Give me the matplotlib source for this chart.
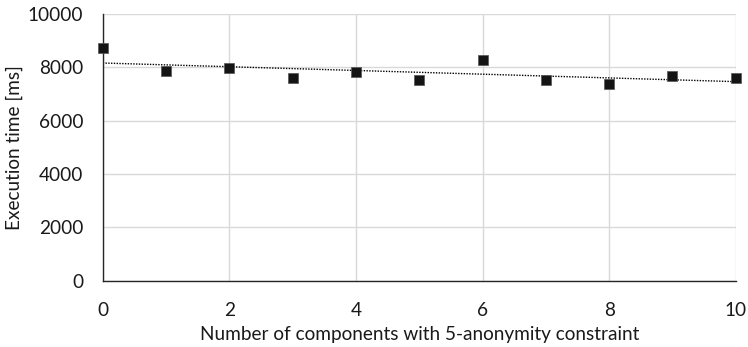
import numpy as np
import matplotlib
matplotlib.use("Agg")
import matplotlib.pyplot as plt

plt.rcParams['font.family'] = ['Lato', 'DejaVu Sans']

# Number of components carrying the 5-anonymity constraint
components = [0, 1, 2, 3, 4, 5, 6, 7, 8, 9, 10]
# Measured execution time per configuration (ms)
exec_time_ms = [8714, 7864, 7965, 7590, 7815, 7526, 8276, 7526, 7376, 7676, 7613]

x_ticks = [0, 2, 4, 6, 8, 10]
y_ticks = [0, 2000, 4000, 6000, 8000, 10000]

FS = 13.7

fig = plt.figure(figsize=(7.48, 3.47), dpi=100)
ax = fig.add_axes([0.1373, 0.191, 0.8463, 0.7687])

ax.set_axisbelow(True)
ax.grid(True, color='#d9d9d9', linewidth=1.0)

# Linear trend over the measurements
x = np.asarray(components, dtype=float)
y = np.asarray(exec_time_ms, dtype=float)
slope, intercept = np.polyfit(x, y, 1)
xt = np.array([x.min(), x.max()])
ax.plot(xt, slope * xt + intercept, color='black', linewidth=1.0,
        linestyle=(0, (1, 1)), zorder=2)

ax.scatter(components, exec_time_ms, marker='s', s=7.9 ** 2,
           color='#141414', edgecolors='#555555', linewidths=0.5,
           zorder=3, clip_on=False)

ax.set_xlim(0, 10)
ax.set_ylim(0, 10000)
ax.set_xticks(x_ticks)
ax.set_yticks(y_ticks)
ax.tick_params(axis='both', length=0, labelsize=FS, colors='#1a1a1a')
ax.tick_params(axis='x', pad=15)
ax.tick_params(axis='y', pad=14)

for side in ('top', 'right'):
    ax.spines[side].set_visible(False)
for side in ('left', 'bottom'):
    ax.spines[side].set_color('#262626')
    ax.spines[side].set_linewidth(1.0)

ax.set_xlabel('Number of components with 5-anonymity constraint',
              fontsize=FS, color='#1a1a1a', labelpad=5.5)
ax.set_ylabel('Execution time [ms]', fontsize=FS, color='#1a1a1a',
              va='center')
ax.yaxis.set_label_coords(-0.14, 0.5)

fig.savefig('out.png', dpi=100)
